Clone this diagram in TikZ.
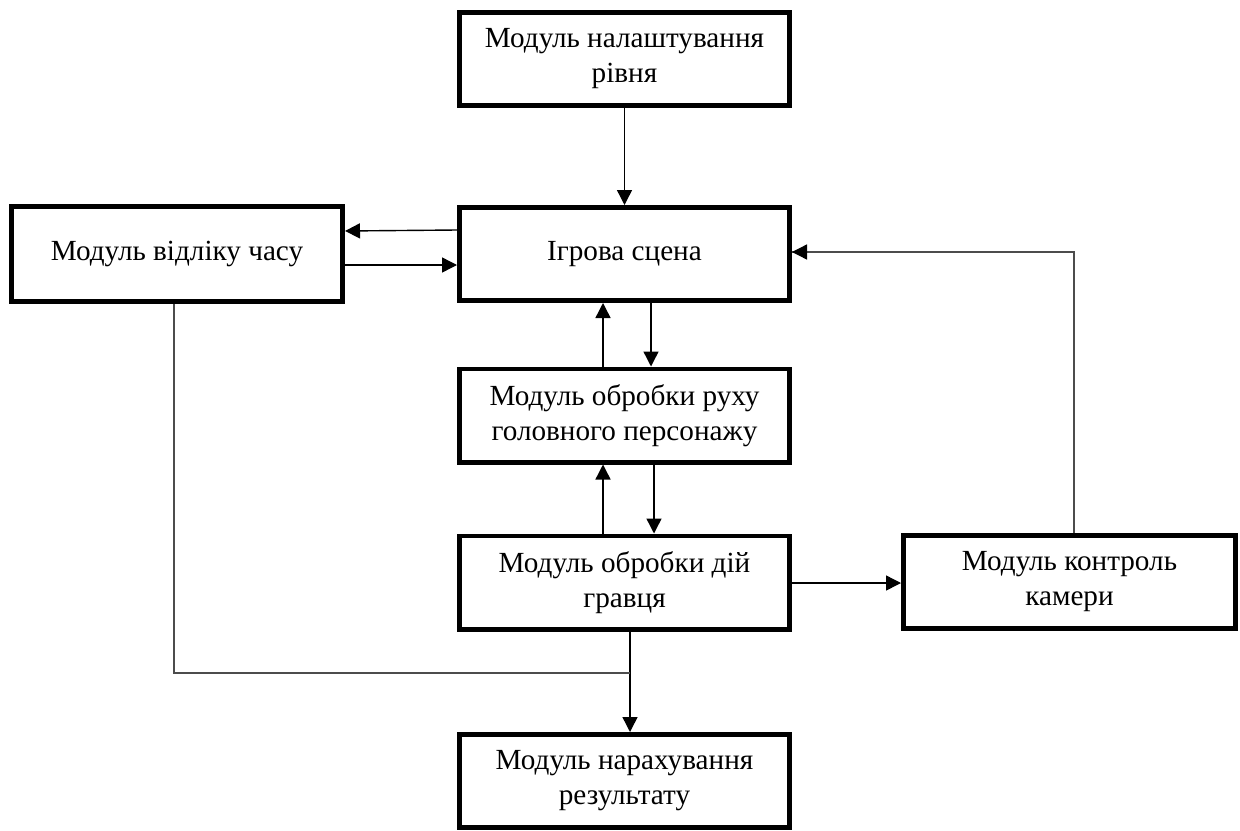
\documentclass[tikz,border=0pt]{standalone}
\usepackage{fontspec}
\setmainfont{Liberation Serif}
\usetikzlibrary{arrows.meta,calc}
\begin{document}
\begin{tikzpicture}[x=0.5pt,y=-0.5pt,
  box/.style={draw,line width=2.3pt,minimum width=165.2pt,minimum height=46.7pt,
    align=center,inner sep=0pt,font=\fontsize{14.6}{17.5}\selectfont},
  arr/.style={line width=0.7pt,-{Triangle[length=7.5pt,width=7.5pt]}},
  conn/.style={line width=0.6pt,draw=black!70}]
\useasboundingbox (0,0) rectangle (1240,830);
\node[box] (lvl)   at (624.5,59)  {Модуль налаштування\\рівня};
\node[box] (scene) at (624.5,254) {Ігрова сцена};
\node[box,minimum width=165.7pt,minimum height=47.7pt] (timer) at (177,254) {Модуль відліку часу};
\node[box] (move)  at (624.5,415.5) {Модуль обробки руху\\головного персонажу};
\node[box] (act)   at (624.5,582.5) {Модуль обробки дій\\гравця};
\node[box,minimum width=166.2pt] (cam) at (1069.5,582) {Модуль контроль\\камери};
\node[box] (res)   at (624.5,781) {Модуль нарахування\\результату};
\coordinate (join) at (630,673);

\draw[arr] (lvl) -- (scene);
\draw[arr] (scene.west |- 0,230) -- (timer.east |- 0,231);
\draw[arr] (timer.east |- 0,265) -- (scene.west |- 0,265);
\draw[arr] (move.north -| 603,0) -- (scene.south -| 603,0);
\draw[arr] (scene.south -| 651,0) -- (move.north -| 651,0);
\draw[arr] (act.north -| 603,0) -- (move.south -| 603,0);
\draw[arr] (move.south -| 654,0) -- (act.north -| 654,0);
\draw[arr] (act.east |- 0,583) -- (cam.west |- 0,583);
\draw[conn] (cam.north -| 1074,0) |- (scene.east |- 0,252);
\draw[arr] ($(scene.east |- 0,252)+(2,0)$) -- (scene.east |- 0,252);
\draw[arr] (act.south -| join) -- (res.north -| join);
\draw[conn] (timer.south -| 174,0) |- (join);
\end{tikzpicture}
\end{document}
